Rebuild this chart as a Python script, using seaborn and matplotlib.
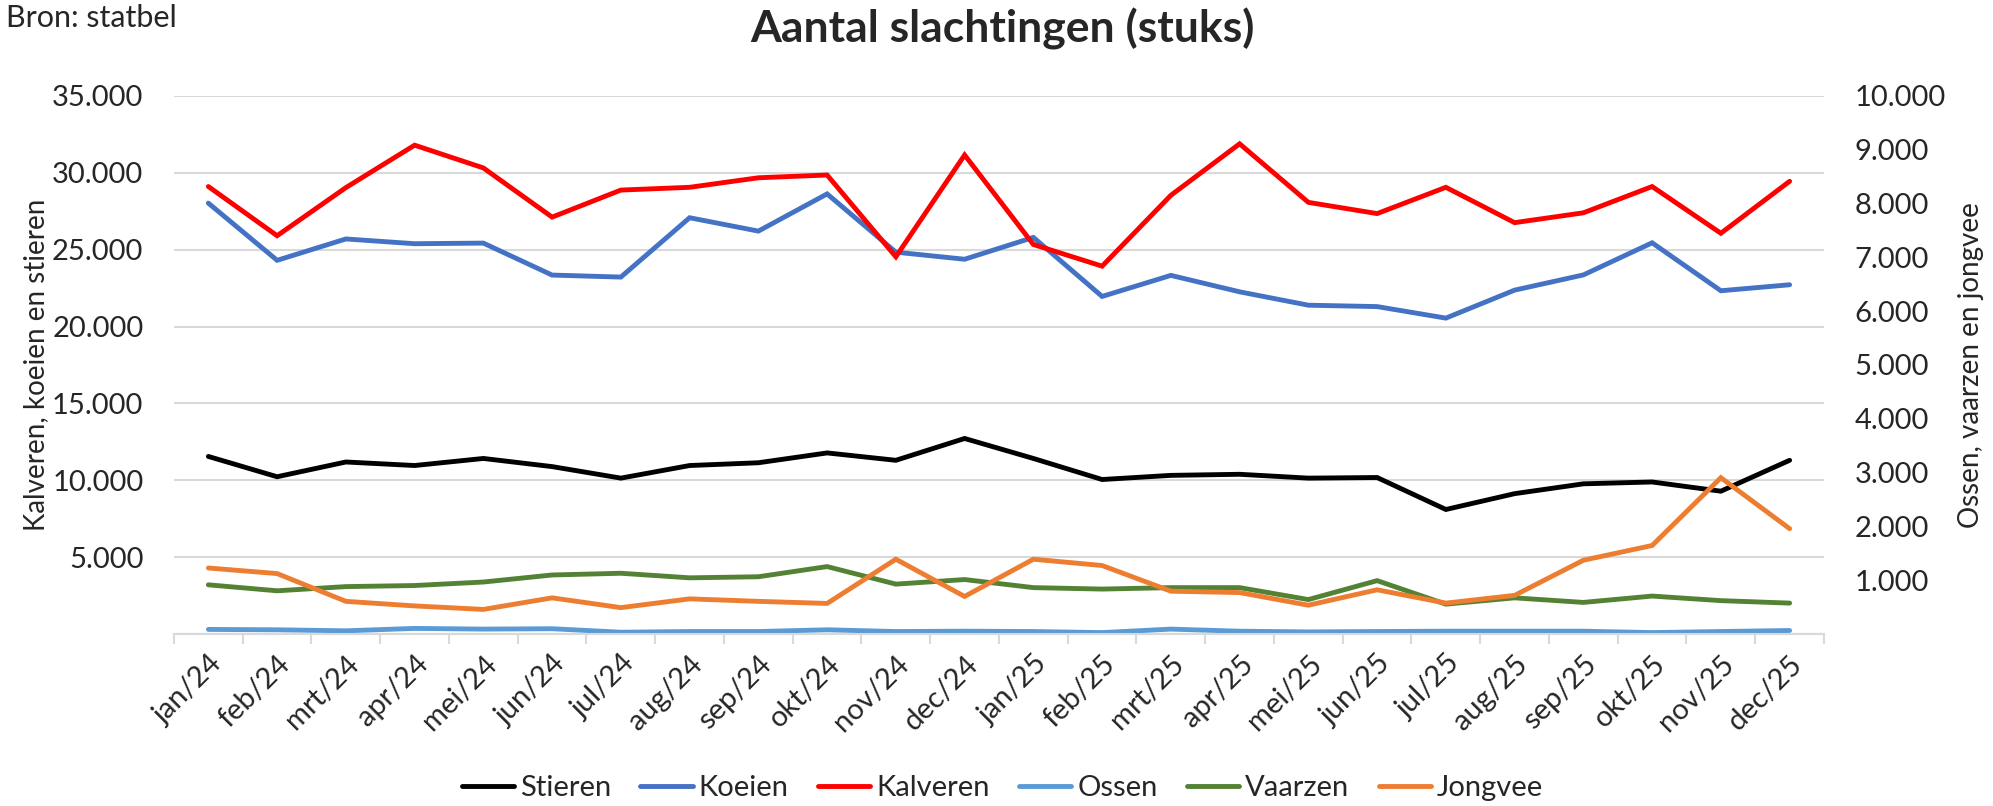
"""
Aantal slachtingen (stuks) per maand, jan/24 - dec/25.
Twee y-assen: links kalveren/koeien/stieren, rechts ossen/vaarzen/jongvee.
"""
import numpy as np
import pandas as pd
import matplotlib
matplotlib.use("Agg")
import matplotlib.pyplot as plt
from matplotlib.ticker import FuncFormatter, FixedLocator
import seaborn as sns

MAANDEN = ["jan/24", "feb/24", "mrt/24", "apr/24", "mei/24", "jun/24",
           "jul/24", "aug/24", "sep/24", "okt/24", "nov/24", "dec/24",
           "jan/25", "feb/25", "mrt/25", "apr/25", "mei/25", "jun/25",
           "jul/25", "aug/25", "sep/25", "okt/25", "nov/25", "dec/25"]

# linker as
stieren = [11550, 10230, 11190, 10960, 11420, 10890, 10140, 10960, 11140, 11780, 11300, 12720,
           11420, 10050, 10320, 10390, 10140, 10180, 8100, 9130, 9770, 9890, 9290, 11300]
koeien = [28030, 24310, 25700, 25390, 25430, 23350, 23220, 27080, 26210, 28630, 24840, 24380,
          25800, 21960, 23330, 22260, 21390, 21300, 20550, 22370, 23360, 25450, 22330, 22720]
kalveren = [29110, 25910, 29040, 31800, 30320, 27120, 28880, 29060, 29680, 29860, 24540, 31160,
            25340, 23930, 28540, 31890, 28080, 27350, 29060, 26760, 27400, 29110, 26070, 29450]

# rechter as
ossen = [85, 78, 59, 104, 91, 98, 33, 46, 46, 78, 46, 52,
         46, 26, 91, 52, 39, 46, 52, 52, 52, 26, 46, 65]
vaarzen = [914, 803, 881, 901, 966, 1097, 1129, 1044, 1064, 1253, 927, 1012,
           862, 835, 862, 862, 640, 992, 555, 672, 587, 705, 620, 574]
jongvee = [1227, 1123, 607, 522, 457, 672, 490, 653, 607, 568, 1390, 698,
           1390, 1273, 796, 770, 535, 822, 574, 718, 1371, 1645, 2905, 1958]

LINKS = {"Stieren": (stieren, "#000000"), "Koeien": (koeien, "#4472C4"),
         "Kalveren": (kalveren, "#FF0000")}
RECHTS = {"Ossen": (ossen, "#5B9BD5"), "Vaarzen": (vaarzen, "#548235"),
          "Jongvee": (jongvee, "#ED7D31")}

sns.set_theme(style="white")
plt.rcParams["font.family"] = ["Lato", "DejaVu Sans"]

GRIJS = "#D9D9D9"
LW = 3.5
punt = FuncFormatter(lambda v, _: "" if v == 0 else f"{int(v):,}".replace(",", "."))


def main():
    x = np.arange(len(MAANDEN))
    fig, ax = plt.subplots(figsize=(19.93, 8.06), dpi=100)
    fig.subplots_adjust(left=0.0873, right=0.9152, top=0.8809, bottom=0.2134)
    ax2 = ax.twinx()

    for naam, (waarden, kleur) in LINKS.items():
        df = pd.DataFrame({"x": x, "y": waarden})
        sns.lineplot(data=df, x="x", y="y", ax=ax, color=kleur, lw=LW, label=naam,
                     legend=False, solid_capstyle="round", solid_joinstyle="miter")
    for naam, (waarden, kleur) in RECHTS.items():
        df = pd.DataFrame({"x": x, "y": waarden})
        sns.lineplot(data=df, x="x", y="y", ax=ax2, color=kleur, lw=LW, label=naam,
                     legend=False, solid_capstyle="round", solid_joinstyle="miter")

    ax.set_xlim(-0.5, len(MAANDEN) - 0.5)
    ax.set_ylim(0, 35000)
    ax2.set_ylim(0, 10000)
    ax.set_yticks(np.arange(0, 35001, 5000))
    ax2.set_yticks(np.arange(0, 10001, 1000))
    ax.yaxis.set_major_formatter(punt)
    ax2.yaxis.set_major_formatter(punt)
    ax.grid(axis="y", color=GRIJS, lw=1.5)
    ax.set_axisbelow(True)

    ax.set_xticks(x)
    ax.set_xticklabels(MAANDEN, rotation=45, ha="right", rotation_mode="anchor")
    ax.xaxis.set_minor_locator(FixedLocator(np.arange(-0.5, len(MAANDEN), 1)))
    ax.tick_params(axis="x", which="major", length=0, pad=12, labelsize=21)
    ax.tick_params(axis="x", which="minor", length=7, width=1.5, color=GRIJS, bottom=True)
    ax.tick_params(axis="y", length=0, pad=22, labelsize=21)
    ax2.tick_params(axis="y", length=0, pad=22, labelsize=21)

    for a in (ax, ax2):
        for s in ("top", "left", "right"):
            a.spines[s].set_visible(False)
        a.spines["bottom"].set_color(GRIJS)
        a.spines["bottom"].set_linewidth(1.5)
        a.set_xlabel("")

    ax.set_ylabel("Kalveren, koeien en stieren", fontsize=20)
    ax2.set_ylabel("Ossen, vaarzen en jongvee", fontsize=20, rotation=90)
    ax.yaxis.set_label_coords(-0.0758, 0.5)
    ax2.yaxis.set_label_coords(1.0812, 0.5)

    fig.suptitle("Aantal slachtingen (stuks)", fontsize=32, fontweight="bold", x=0.503, y=0.99)
    fig.text(0.003, 0.995, "Bron: statbel", fontsize=22, va="top", ha="left")

    h1, l1 = ax.get_legend_handles_labels()
    h2, l2 = ax2.get_legend_handles_labels()
    fig.legend(h1 + h2, l1 + l2, loc="center", bbox_to_anchor=(0.503, 0.022), ncol=6,
               frameon=False, fontsize=21, handlelength=1.8, handletextpad=0.2,
               columnspacing=1.0)

    fig.savefig("out.png", dpi=100)
    plt.close(fig)


if __name__ == "__main__":
    main()
